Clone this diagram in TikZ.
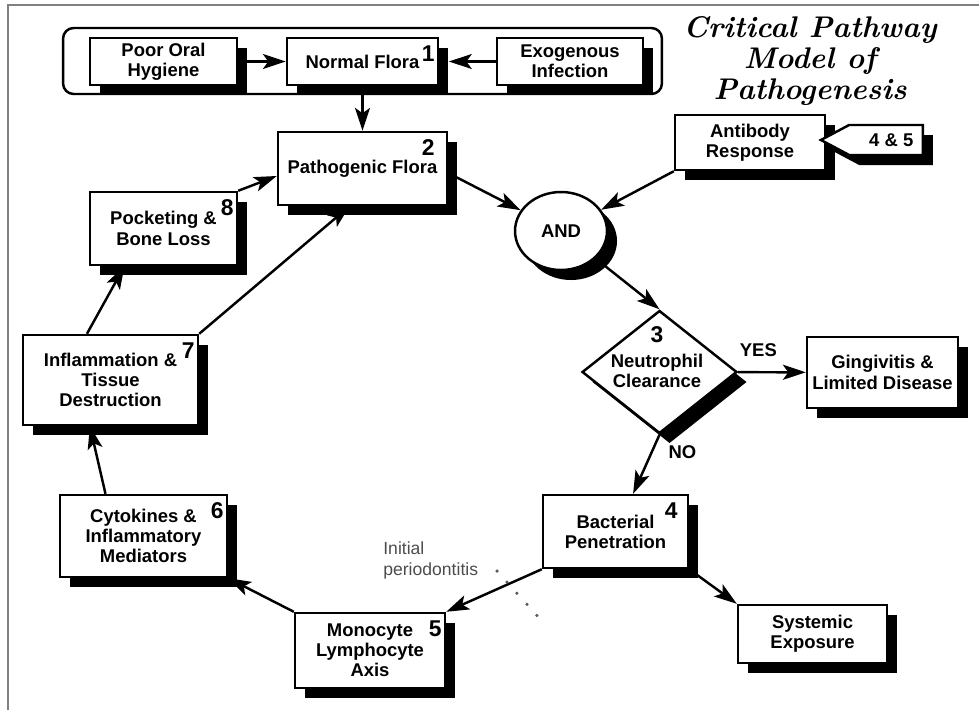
\documentclass[tikz,border=0pt]{standalone}
\usepackage{fontspec}
\setsansfont{Liberation Sans}
\usepackage{tikz}
\usetikzlibrary{shapes.geometric,shapes.symbols,shadows,arrows.meta}

\begin{document}
\begin{tikzpicture}[x=0.02cm, y=-0.02cm]
    \tikzstyle{flowbox} = [rectangle, draw, line width=1.4pt, fill=white, align=center, inner sep=0pt, font=\sffamily\bfseries\fontsize{10.5}{11.5}\selectfont, drop shadow={shadow xshift=5.7pt, shadow yshift=-5.7pt, opacity=1, fill=black}]
    \tikzstyle{junction} = [ellipse, draw, line width=1.4pt, fill=white, inner sep=0pt, minimum width=1.84cm, minimum height=1.56cm, font=\sffamily\bfseries\fontsize{10.5}{11.5}\selectfont, drop shadow={shadow xshift=5.7pt, shadow yshift=-5.7pt, opacity=1, fill=black}]
    \tikzstyle{decision} = [diamond, draw, line width=1.4pt, fill=white, inner sep=0pt, minimum width=3.1cm, minimum height=2.46cm, drop shadow={shadow xshift=5.7pt, shadow yshift=-5.7pt, opacity=1, fill=black}]
    \tikzstyle{tagshape} = [signal, signal to=west, signal pointer angle=56, draw, line width=1.4pt, fill=white, inner sep=0pt, minimum width=2.04cm, minimum height=0.6cm, font=\sffamily\bfseries\fontsize{10.5}{11.5}\selectfont, drop shadow={shadow xshift=5.7pt, shadow yshift=-5.7pt, opacity=1, fill=black}]
    \tikzstyle{numlbl} = [anchor=north east, inner sep=0pt, xshift=-2.5pt, yshift=-5pt, font=\sffamily\bfseries\fontsize{13}{13}\selectfont]
    \tikzstyle{flow} = [line width=1.4pt, -{Stealth[length=13pt, width=8.5pt, inset=3pt]}]
    \tikzstyle{plain} = [inner sep=0pt, font=\sffamily\bfseries\fontsize{10.5}{11.5}\selectfont]

    \useasboundingbox (0,0) rectangle (979,710);

    % Frame
    \draw[gray, line width=1.2pt] (8,710) -- (8,5) -- (979,5);

    % Title
    \node[align=center, font=\bfseries\itshape\fontsize{17}{17.4}\selectfont] (title) at (810,61) {Critical Pathway\\Model of\\Pathogenesis};

    % Top group
    \node[draw, line width=1.4pt, rounded corners=6pt, minimum width=11.98cm, minimum height=1.32cm] (grp) at (362.5,61) {};
    \node[flowbox, minimum width=2.94cm, minimum height=0.94cm] (hyg) at (163.5,61.5) {Poor Oral\\Hygiene};
    \node[flowbox, minimum width=3.02cm, minimum height=0.94cm, label={[numlbl]north east:1}] (nflora) at (362.5,61.5) {Normal Flora};
    \node[flowbox, minimum width=2.92cm, minimum height=0.94cm] (exo) at (570,61.5) {Exogenous\\Infection};

    % Cycle
    \node[flowbox, minimum width=3.38cm, minimum height=1.46cm, label={[numlbl, xshift=-5pt]north east:2}] (pflora) at (362.5,168.5) {Pathogenic Flora};
    \node[flowbox, minimum width=2.94cm, minimum height=1.46cm, label={[numlbl]north east:8}] (pocket) at (163.5,228.5) {Pocketing \&\\Bone Loss};
    \node[flowbox, minimum width=3.5cm, minimum height=1.8cm, label={[numlbl]north east:7}] (inflam) at (110.5,380) {Inflammation \&\\Tissue\\Destruction};
    \node[flowbox, minimum width=3.34cm, minimum height=1.64cm, label={[numlbl]north east:6}] (cyto) at (143.5,536) {Cytokines \&\\Inflammatory\\Mediators};
    \node[flowbox, minimum width=3.0cm, minimum height=1.5cm, label={[numlbl]north east:5}] (mono) at (370,650.5) {Monocyte\\Lymphocyte\\Axis};
    \node[flowbox, minimum width=2.9cm, minimum height=1.46cm, label={[numlbl, xshift=-4pt]north east:4}] (bact) at (615.5,531.5) {Bacterial\\Penetration};
    \node[flowbox, minimum width=2.98cm, minimum height=1.16cm] (sysexp) at (812.5,634) {Systemic\\Exposure};

    % Right side
    \node[flowbox, minimum width=3.0cm, minimum height=1.1cm] (antib) at (750,142.5) {Antibody\\Response};
    \node[tagshape] (tag45) at (886,140) {\hspace*{6pt}4 \& 5};
    \node[junction] (andj) at (561,231) {AND};
    \node[decision] (neut) at (659.5,372) {};
    \node[plain, align=center] (neuttxt) at (657,357) {{\fontsize{13}{13}\selectfont 3}\\[2.5pt]Neutrophil\\Clearance};
    \node[flowbox, minimum width=3.02cm, minimum height=1.42cm] (ging) at (882.5,372.5) {Gingivitis \&\\Limited Disease};

    % Connectors
    \draw[flow] (hyg) -- (nflora);
    \draw[flow, shorten >=5.5pt] (exo) -- (nflora.east);
    \draw[flow] (nflora) -- (pflora);
    \draw[flow] (pflora.-3) -- (andj);
    \draw[flow] (antib.south west) -- (andj);
    \draw[flow] (andj) -- (neut.north);
    \draw[flow] (neut) -- (ging) node[plain, pos=0.3, above=8pt] (yes) {YES};
    \draw[flow] (neut.south) -- (bact.65) node[plain, pos=0.3, right=9pt] (no) {NO};
    \draw[flow] (bact.south west) -- (mono.north east);
    \draw[flow] (bact.south east) -- (sysexp.north west);
    \draw[flow] (mono.north west) -- (cyto.south east);
    \draw[flow] (cyto.132) -- (inflam.-114);
    \draw[flow] (inflam.117) -- (pocket.-136);
    \draw[flow] (inflam.north east) -- (pflora.-109);
    \draw[flow] (pocket.north east) -- (pflora.185);

    % Initial periodontitis
    \node[anchor=west, align=left, inner sep=0pt, text=gray!60!black, font=\sffamily\fontsize{10}{12}\selectfont] (initp) at (383,560) {Initial\\periodontitis};
    \coordinate (dotA) at (497,571);
    \coordinate (dotB) at (540,619);
    \draw[gray!70!black, line width=2pt, line cap=round, dash pattern=on 0pt off 8.5pt] (dotA) -- (dotB);
\end{tikzpicture}
\end{document}
